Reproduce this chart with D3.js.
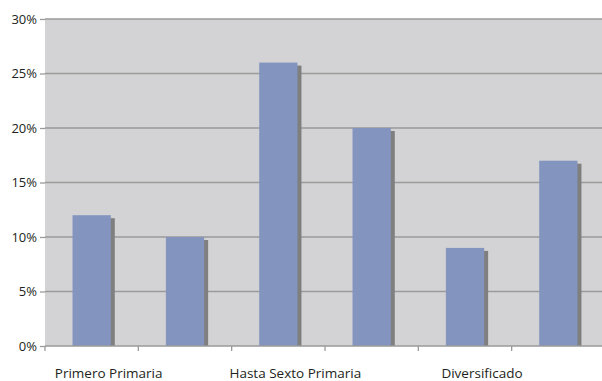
<!DOCTYPE html>
<html>
<head>
<meta charset="utf-8">
<script src="https://cdn.jsdelivr.net/npm/d3@7"></script>
<style>
  body { margin: 0; background: #fff; }
  text { font-family: "Open Sans", "Noto Sans", sans-serif; fill: #231f20; }
</style>
</head>
<body>
<div id="chart"></div>
<script>
let w = 602;
let h = 381;

// data
let categories = ["c1", "c2", "c3", "c4", "c5", "c6"];
let labels = ["Primero Primaria", "", "Hasta Sexto Primaria", "", "Diversificado", ""];
let values = [12, 10, 26, 20, 9, 17];
let yTicks = [0, 5, 10, 15, 20, 25, 30];

let margin = { top: 19, right: -3, bottom: 35, left: 45 };

let svg = d3.select("#chart")
  .append("svg")
  .attr("width", w)
  .attr("height", h);

let xScale = d3.scaleBand()
  .domain(categories)
  .range([margin.left, w - margin.right])
  .paddingInner(0.59)
  .paddingOuter(0.295);

let yScale = d3.scaleLinear()
  .domain([0, 30])
  .range([h - margin.bottom, margin.top]);

// plot background
svg.append("rect")
  .attr("x", margin.left)
  .attr("y", margin.top)
  .attr("width", w - margin.right - margin.left)
  .attr("height", yScale(0) - margin.top)
  .attr("fill", "#d3d3d5");

// gridlines
svg.selectAll(".grid").data(yTicks.filter(d => d > 0)).enter()
  .append("line")
  .attr("class", "grid")
  .attr("x1", margin.left)
  .attr("x2", w)
  .attr("y1", d => yScale(d))
  .attr("y2", d => yScale(d))
  .attr("stroke", "#9a9a9a")
  .attr("stroke-width", 1.3);

// y axis
let yAxis = d3.axisLeft(yScale)
  .tickValues(yTicks)
  .tickSize(5)
  .tickPadding(3)
  .tickFormat(d => d + "%");
let yAxisGroup = svg.append("g")
  .attr("transform", "translate(" + margin.left + ",0)")
  .call(yAxis);
yAxisGroup.select(".domain").remove();
yAxisGroup.selectAll("line").attr("stroke", "#9a9a9a").attr("stroke-width", 1.3);
yAxisGroup.selectAll("text").style("font-size", "13px").attr("fill", "#231f20");

// shadows
let step = xScale.step();
svg.selectAll(".shadow").data(values).enter()
  .append("rect")
  .attr("class", "shadow")
  .attr("x", (d, i) => xScale(categories[i]) + 4)
  .attr("y", d => yScale(d) + 3)
  .attr("width", xScale.bandwidth())
  .attr("height", d => yScale(0) - yScale(d) - 3)
  .attr("fill", "#7f7f7f");

// bars
svg.selectAll(".bar").data(values).enter()
  .append("rect")
  .attr("class", "bar")
  .attr("x", (d, i) => xScale(categories[i]))
  .attr("y", d => yScale(d))
  .attr("width", xScale.bandwidth())
  .attr("height", d => yScale(0) - yScale(d))
  .attr("fill", "#8395be");

// x axis baseline and ticks at band boundaries
let x0 = xScale(categories[0]) - xScale.step() * xScale.paddingOuter();
svg.append("line")
  .attr("x1", margin.left)
  .attr("x2", w)
  .attr("y1", yScale(0))
  .attr("y2", yScale(0))
  .attr("stroke", "#9a9a9a")
  .attr("stroke-width", 1.3);

svg.selectAll(".xtick").data(categories).enter()
  .append("line")
  .attr("class", "xtick")
  .attr("x1", (d, i) => x0 + i * step)
  .attr("x2", (d, i) => x0 + i * step)
  .attr("y1", yScale(0))
  .attr("y2", yScale(0) + 5)
  .attr("stroke", "#9a9a9a")
  .attr("stroke-width", 1.3);

// category labels
svg.selectAll(".xlabel").data(labels).enter()
  .append("text")
  .attr("class", "xlabel")
  .attr("x", (d, i) => xScale(categories[i]) + xScale.bandwidth() / 2 + 17)
  .attr("y", yScale(0) + 32)
  .attr("text-anchor", "middle")
  .style("font-size", "13.5px")
  .text(d => d);
</script>
</body>
</html>
